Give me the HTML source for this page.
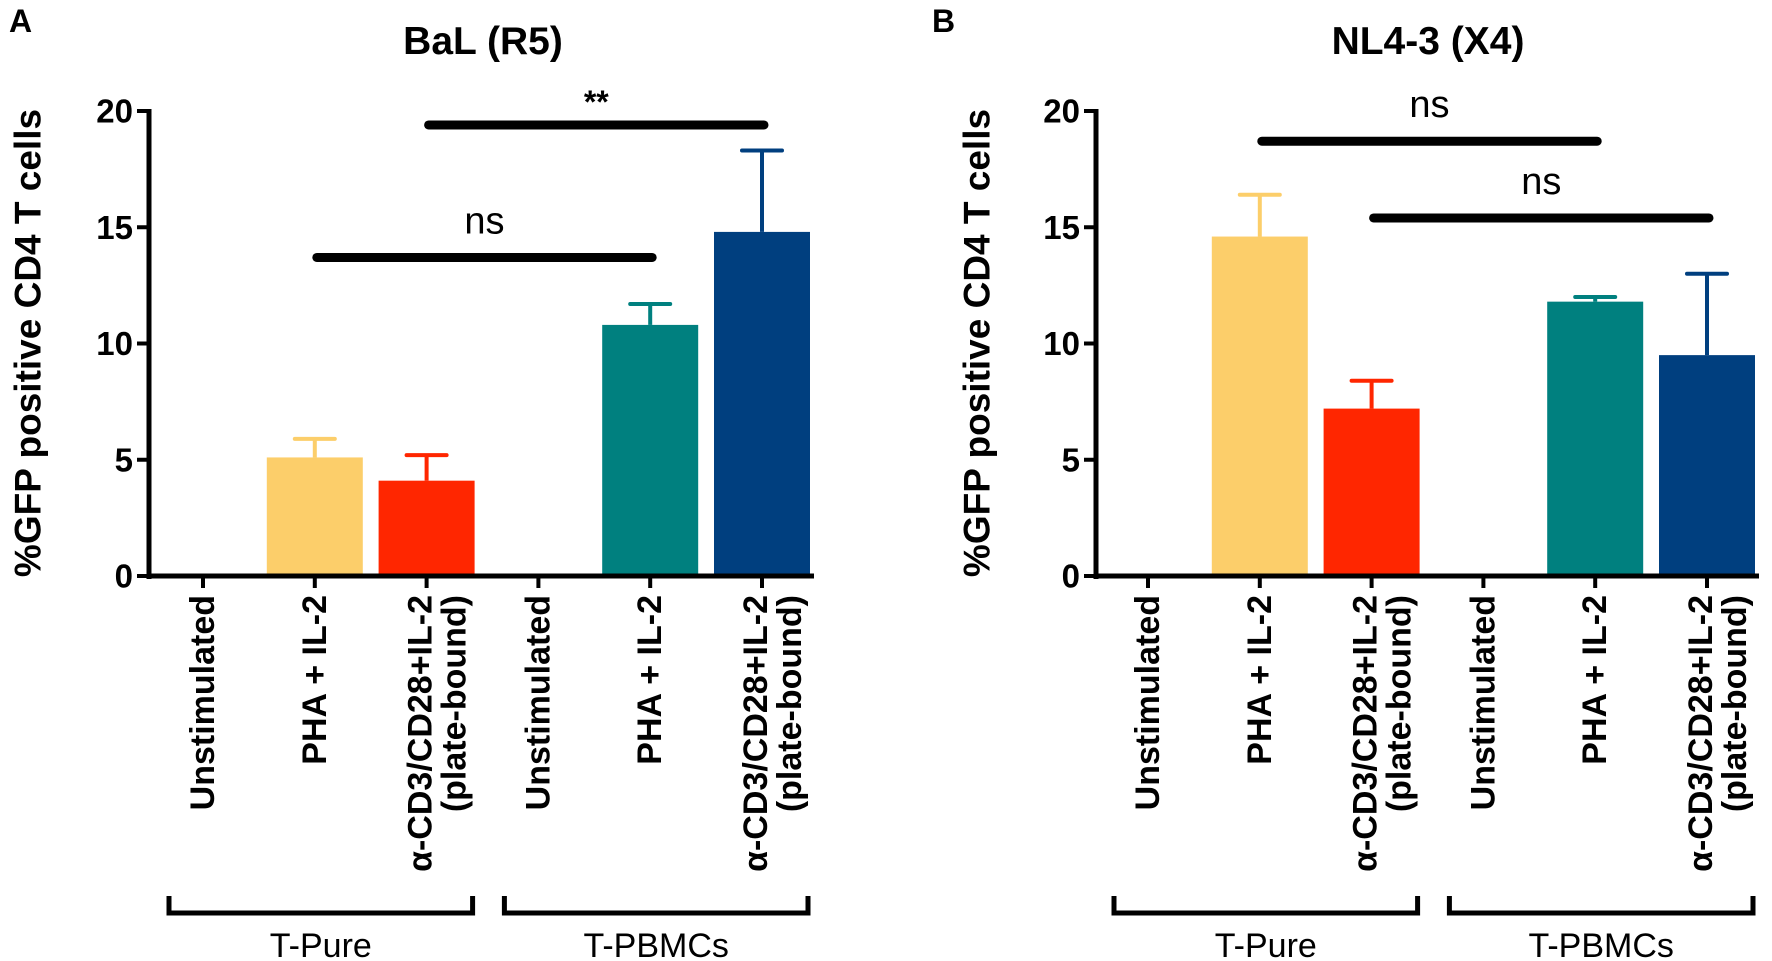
<!DOCTYPE html>
<html><head><meta charset="utf-8"><style>
html,body{margin:0;padding:0;background:#fff;}
svg{display:block;font-family:"Liberation Sans",Arial,sans-serif;}
</style></head><body>
<svg id="chart" width="1772" height="961" viewBox="0 0 1772 961"></svg>
<script>
const categories = ["Unstimulated","PHA + IL-2","α-CD3/CD28+IL-2|(plate-bound)","Unstimulated","PHA + IL-2","α-CD3/CD28+IL-2|(plate-bound)"];
const groups = ["T-Pure","T-PBMCs"];
const colors = ["#fcce6a","#ff2600","#00807f","#003f7f"];
const barColorIdx = [0,0,1,0,2,3];
const valuesA = [0, 5.1, 4.1, 0, 10.8, 14.8];
const errTopA = [0, 5.9, 5.2, 0, 11.7, 18.3];
const valuesB = [0, 14.6, 7.2, 0, 11.8, 9.5];
const errTopB = [0, 16.4, 8.4, 0, 12.0, 13.0];
const yTicks = [0,5,10,15,20];
const sigA = [{from:2,to:5,y:19.4,label:"**"},{from:1,to:4,y:13.7,label:"ns"}];
const sigB = [{from:1,to:4,y:18.7,label:"ns"},{from:2,to:5,y:15.4,label:"ns"}];

const NS="http://www.w3.org/2000/svg";
const svg=document.getElementById('chart');
function mk(tag,attrs,parent,text){const e=document.createElementNS(NS,tag);for(const k in attrs)e.setAttribute(k,attrs[k]);if(text!==undefined)e.textContent=text;(parent||svg).appendChild(e);return e;}

function panel(cfg){
  const g=mk('g',{});
  
  
  const y0=576, yTop=111, ax=cfg.axisX, step=111.8, bw=96, first=cfg.firstX;
  const y=v=>y0-(v/20)*(y0-yTop);
  const x=i=>first+i*step;
  const L=mk('text',{x:cfg.letterX,y:32,'font-size':32,'font-weight':'bold'},g,cfg.letter);
  
  
  const T=mk('text',{x:cfg.titleX,y:54,'font-size':39,'font-weight':'bold','text-anchor':'middle'},g,cfg.title);
  
  
  const yl=mk('text',{x:0,y:0,'font-size':37,'font-weight':'bold','text-anchor':'middle','dominant-baseline':'central',transform:`translate(${cfg.ylabX},343) rotate(-90)`},g,'%GFP positive CD4 T cells');
  
  
  cfg.values.forEach((v,i)=>{
    const c=colors[barColorIdx[i]];
    const cx=x(i);
    if(v>0){
      const e=cfg.errTop[i];
      const el=mk('line',{x1:cx,x2:cx,y1:y(v),y2:y(e),stroke:c,'stroke-width':4},g);
      
      
      const cap=mk('line',{x1:cx-20,x2:cx+20,y1:y(e),y2:y(e),stroke:c,'stroke-width':4,'stroke-linecap':'round'},g);
      
      
    }
    const r=mk('rect',{x:cx-bw/2,y:y(v),width:bw,height:Math.max(0,y0-y(v)),fill:c},g);
    
    
  });
  const ya=mk('line',{x1:ax,x2:ax,y1:yTop-2,y2:y0+3,stroke:'#000','stroke-width':5},g);
  
  
  const xa=mk('line',{x1:ax-2,x2:x(5)+bw/2+4,y1:y0,y2:y0,stroke:'#000','stroke-width':5},g);
  
  
  yTicks.forEach(t=>{
    const tl=mk('line',{x1:ax-12,x2:ax,y1:y(t),y2:y(t),stroke:'#000','stroke-width':4},g);
    
    
    const tt=mk('text',{x:ax-16,y:y(t),'font-size':33,'font-weight':'bold','text-anchor':'end','dominant-baseline':'central'},g,String(t));
    
    
  });
  categories.forEach((c,i)=>{
    const cx=x(i);
    const tk=mk('line',{x1:cx,x2:cx,y1:y0,y2:y0+12,stroke:'#000','stroke-width':4},g);
    
    
    const parts=c.split('|');
    parts.forEach((p,j)=>{
      const off=parts.length===1?0:(j===0?-6:28);
      const t=mk('text',{x:0,y:0,'font-size':34,'font-weight':'bold','text-anchor':'end','dominant-baseline':'central',transform:`translate(${cx+off},595) rotate(-90)`},g,p);
      
      
    });
  });
  groups.forEach((gn,k)=>{
    const xl=x(k*3)-34, xr=x(k*3+2)+46;
    const b=mk('path',{d:`M${xl},896 V913 H${xr} V896`,fill:'none',stroke:'#000','stroke-width':5},g);
    
    
    const t=mk('text',{x:(xl+xr)/2,y:946,'font-size':34,'text-anchor':'middle','dominant-baseline':'central'},g,gn);
    
    
  });
  cfg.sig.forEach(s=>{
    const x1=x(s.from)+2, x2=x(s.to)+2;
    const l=mk('line',{x1:x1,x2:x2,y1:y(s.y),y2:y(s.y),stroke:'#000','stroke-width':9,'stroke-linecap':'round'},g);
    
    
    const t=mk('text',{x:(x1+x2)/2,y:y(s.y)-(s.label==='**'?12:24),'font-size':s.label==='**'?32:38,'font-weight':s.label==='**'?'bold':'normal','text-anchor':'middle'},g,s.label);
    
    
  });
}
panel({id:'panel-a',letter:'A',letterX:9,title:'BaL (R5)',titleX:483,axisX:149,firstX:203,ylabX:28,values:valuesA,errTop:errTopA,sig:sigA});
panel({id:'panel-b',letter:'B',letterX:932,title:'NL4-3 (X4)',titleX:1428,axisX:1096,firstX:1148,ylabX:977,values:valuesB,errTop:errTopB,sig:sigB});
</script>
</body></html>
